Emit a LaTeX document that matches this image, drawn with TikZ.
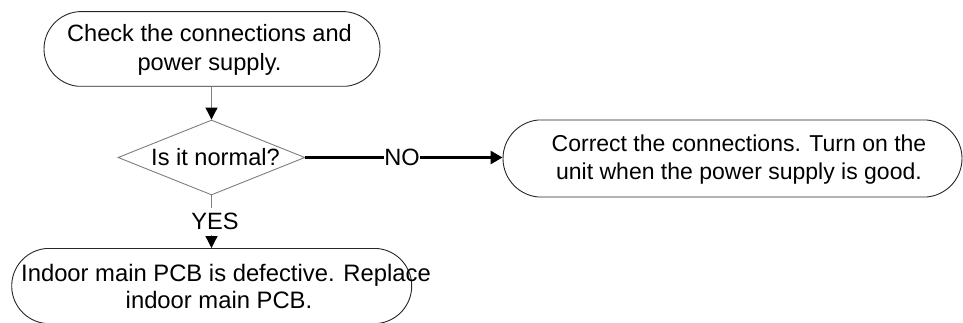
\documentclass[tikz,border=0pt]{standalone}
\usepackage{fontspec}
\setmainfont{Liberation Sans}
\usetikzlibrary{shapes.misc,shapes.geometric,arrows.meta}
\begin{document}
\begin{tikzpicture}[x=1pt,y=-1pt,
 term/.style={rounded rectangle, rounded rectangle arc length=170, draw=black!85, line width=0.9pt, inner sep=0pt},
 txt/.style={align=center, font=\fontsize{23.6}{29}\selectfont, inner sep=0pt},
 dec/.style={diamond, draw=black!50, line width=0.9pt, minimum width=187pt, minimum height=75pt, inner sep=0pt},
 conn/.style={draw=black!50, line width=1.1pt, -{Triangle[width=12pt,length=12pt,color=black]}},
 noconn/.style={draw=black, line width=2.6pt, -{Triangle[width=13pt,length=12pt]}},
 lab/.style={font=\fontsize{23.6}{29}\selectfont, fill=white, inner xsep=0.5pt, inner ysep=5pt}]
\useasboundingbox (0,0) rectangle (963,323);
\node[term, minimum width=336pt, minimum height=74.6pt] (chk) at (212,49) {};
\node[txt] (chkT) at (209.5,49.5) {Check the connections and\\power supply.};
\node[dec] (dia) at (211.5,157.5) {};
\node[txt] (diaT) at (215.5,157.5) {Is it normal?};
\node[term, minimum width=459pt, minimum height=77pt] (cor) at (732.5,158.5) {};
\node[txt, font=\fontsize{23}{28}\selectfont] (corT) at (739,160) {Correct the connections. Turn on the\\unit when the power supply is good.};
\node[term, minimum width=400pt, minimum height=75pt] (pcb) at (211.7,286) {};
\node[txt, font=\fontsize{23.8}{26.5}\selectfont] (pcbT) at (226,286.5) {Indoor main PCB is defective. Replace\\indoor main PCB.\hspace*{14pt}};
\draw[conn] (chk.south -| dia.north) -- (dia.north);
\draw[conn] (dia.south) -- node[lab, pos=0.5, xshift=3.5pt] (yes) {YES} (dia.south |- pcb.north);
\draw[noconn] (dia.east) -- node[lab, pos=0.49] (no) {NO} (dia.east -| cor.west);
\end{tikzpicture}
\end{document}
